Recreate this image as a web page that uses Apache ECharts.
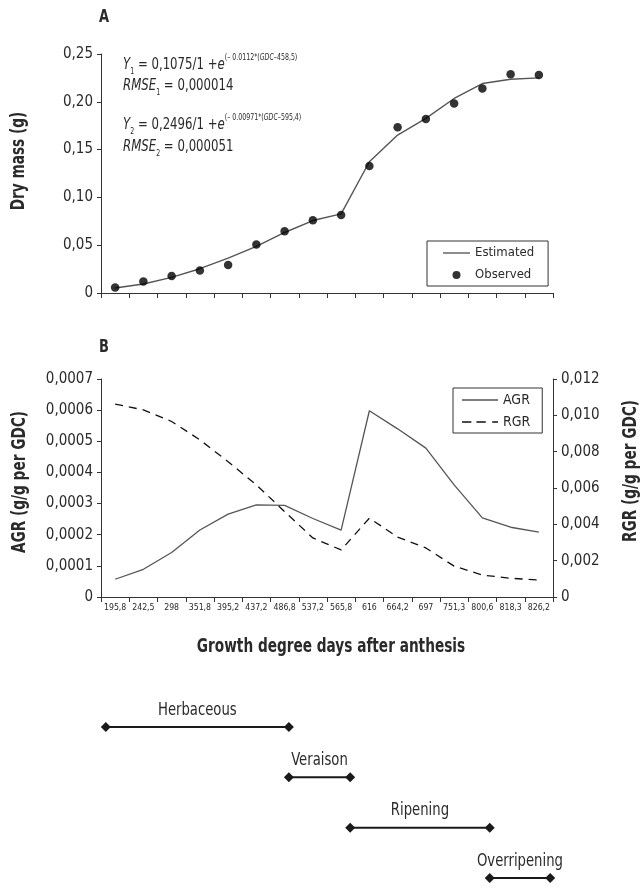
<!DOCTYPE html>
<html>
<head>
<meta charset="utf-8">
<script src="https://cdn.jsdelivr.net/npm/echarts@6/dist/echarts.min.js"></script>
<style>
html,body{margin:0;padding:0;background:#fff;}
#chart{width:643px;height:888px;}
</style>
</head>
<body>
<div id="chart"></div>
<script>
// ---- data ----
var categories = ['195,8','242,5','298','351,8','395,2','437,2','486,8','537,2','565,8','616','664,2','697','751,3','800,6','818,3','826,2'];
var observed  = [0.0058,0.0121,0.0177,0.0236,0.0292,0.0507,0.0647,0.0762,0.0817,0.1328,0.1735,0.1819,0.1983,0.2139,0.2288,0.2281];
var estimated = [0.0052,0.0094,0.0163,0.0254,0.0365,0.0487,0.0633,0.0758,0.0828,0.1373,0.1652,0.1826,0.2035,0.2191,0.2236,0.2250];
var agr = [0.000057,0.000089,0.000143,0.000215,0.000266,0.000296,0.000294,0.000252,0.000215,0.000598,0.000540,0.000478,0.000360,0.000254,0.000224,0.000208];
var rgr = [0.01062,0.0103,0.00966,0.00865,0.00745,0.00617,0.0047,0.00325,0.00259,0.00434,0.0033,0.0027,0.0017,0.00121,0.00103,0.00094];
var leftTicksA = {min:0, max:0.25, interval:0.05};
var leftTicksB = {min:0, max:0.0007, interval:0.0001};
var rightTicksB = {min:0, max:0.012, interval:0.002};
var phaseNames = ['Herbaceous','Veraison','Ripening','Overripening'];
var phaseStart = [0.17, 6.65, 8.82, 13.76];   // in category-slot units
var phaseEnd   = [6.65, 8.82, 13.76, 15.9];

var FONT = '"Liberation Sans Narrow","DejaVu Sans Condensed","Arial Narrow",sans-serif';
var TXT = '#2a2a2a';

function fmt(dec){ return function(v){ return v === 0 ? '0' : v.toFixed(dec).replace('.', ','); }; }

var chart = echarts.init(document.getElementById('chart'), null, {renderer:'canvas'});

var axisLineStyle = {lineStyle:{color:'#333', width:1}};
var tickStyle = {show:true, length:4, lineStyle:{color:'#333', width:1}};
var labelStyle = {color:TXT, fontFamily:FONT, fontSize:15};

var phaseData = phaseNames.map(function(n,i){ return [phaseStart[i], phaseEnd[i], i]; });

var richEq = {
  it:{fontFamily:FONT, fontSize:15, fontStyle:'italic', color:TXT, lineHeight:22},
  n:{fontFamily:FONT, fontSize:15, color:TXT, lineHeight:22},
  sub:{fontFamily:FONT, fontSize:8, color:TXT, lineHeight:9, verticalAlign:'bottom'},
  sup:{fontFamily:FONT, fontSize:8, color:TXT, lineHeight:8, verticalAlign:'top'},
  supi:{fontFamily:FONT, fontSize:8, fontStyle:'italic', color:TXT, lineHeight:8, verticalAlign:'top'}
};
function eqText(x, y, text){
  return {type:'text', x:x, y:y, scaleX:0.87, style:{text:text, rich:richEq, fill:TXT, textVerticalAlign:'middle'}};
}
function titleText(x, y, text, rot){
  return {type:'text', x:x, y:y, rotation:rot, scaleX:0.8, style:{text:text, fontFamily:FONT, fontSize:19, fontWeight:'bold', fill:TXT, textAlign:'center', textVerticalAlign:'middle'}};
}

var option = {
  animation:false,
  backgroundColor:'#fff',
  grid:[
    {left:101, top:54, width:452, height:239},
    {left:101, top:379, width:452, height:218},
    {left:101, top:727, width:452, height:151}
  ],
  xAxis:[
    {type:'category', gridIndex:0, data:categories, boundaryGap:true,
     axisLine:axisLineStyle, axisTick:{show:true, length:5, interval:0, lineStyle:{color:'#333'}}, axisLabel:{show:false}},
    {type:'category', gridIndex:1, data:categories, boundaryGap:true,
     axisLine:axisLineStyle, axisTick:{show:true, length:5, interval:0, lineStyle:{color:'#333'}},
     axisLabel:{interval:0, color:TXT, fontFamily:FONT, fontSize:8.7, margin:6}},
    {type:'value', gridIndex:2, min:0, max:16, show:false}
  ],
  yAxis:[
    {type:'value', gridIndex:0, min:leftTicksA.min, max:leftTicksA.max, interval:leftTicksA.interval,
     axisLine:{show:true, lineStyle:{color:'#333'}}, axisTick:tickStyle, splitLine:{show:false},
     axisLabel:Object.assign({formatter:fmt(2), margin:8}, labelStyle)},
    {type:'value', gridIndex:1, min:leftTicksB.min, max:leftTicksB.max, interval:leftTicksB.interval,
     axisLine:{show:true, lineStyle:{color:'#333'}}, axisTick:tickStyle, splitLine:{show:false},
     axisLabel:Object.assign({formatter:fmt(4), margin:8}, labelStyle)},
    {type:'value', gridIndex:1, position:'right', min:rightTicksB.min, max:rightTicksB.max, interval:rightTicksB.interval,
     axisLine:{show:true, lineStyle:{color:'#333'}}, axisTick:tickStyle, splitLine:{show:false},
     axisLabel:Object.assign({formatter:fmt(3), margin:8}, labelStyle)},
    {type:'category', gridIndex:2, data:phaseNames, inverse:true, boundaryGap:false, show:false}
  ],
  legend:[
    {orient:'vertical', left:427, top:241, padding:[3,14,2,16], itemGap:4, itemWidth:27, itemHeight:8,
     borderColor:'#333', borderWidth:1, borderRadius:0,
     textStyle:{fontFamily:FONT, fontSize:13, color:TXT, lineHeight:18},
     data:[{name:'Estimated', icon:'path://M0,0L100,0L100,5L0,5Z'}, {name:'Observed', icon:'circle'}]},
    {orient:'vertical', left:453, top:388, padding:[3,12,2,9], itemGap:4, itemWidth:36, itemHeight:8,
     borderColor:'#333', borderWidth:1, borderRadius:0,
     textStyle:{fontFamily:FONT, fontSize:14, color:TXT, lineHeight:18},
     data:[{name:'AGR', icon:'path://M0,0L100,0L100,4L0,4Z'},
           {name:'RGR', icon:'path://M0,0L26,0L26,4L0,4Z M40,0L66,0L66,4L40,4Z M84,0L100,0L100,4L84,4Z'}]}
  ],
  series:[
    {name:'Estimated', type:'line', xAxisIndex:0, yAxisIndex:0, data:estimated, symbol:'none',
     lineStyle:{color:'#555', width:1.4}, itemStyle:{color:'#555'}, z:2},
    {name:'Observed', type:'scatter', xAxisIndex:0, yAxisIndex:0, data:observed, symbol:'circle', symbolSize:8.5,
     itemStyle:{color:'#000'}, z:3},
    {name:'AGR', type:'line', xAxisIndex:1, yAxisIndex:1, data:agr, symbol:'none',
     lineStyle:{color:'#555', width:1.3}, itemStyle:{color:'#555'}},
    {name:'RGR', type:'line', xAxisIndex:1, yAxisIndex:2, data:rgr, symbol:'none',
     lineStyle:{color:'#111', width:1.3, type:[8,6]}, itemStyle:{color:'#111'}},
    {name:'phases', type:'custom', xAxisIndex:2, yAxisIndex:3, data:phaseData, silent:true,
     encode:{x:[0,1], y:2},
     renderItem:function(params, api){
       var s = api.coord([api.value(0), api.value(2)]);
       var e = api.coord([api.value(1), api.value(2)]);
       var r = 5;
       function diamond(p){
         return {type:'polygon', shape:{points:[[p[0],p[1]-r],[p[0]+r,p[1]],[p[0],p[1]+r],[p[0]-r,p[1]]]}, style:{fill:'#1a1a1a'}};
       }
       return {type:'group', children:[
         {type:'line', shape:{x1:s[0], y1:s[1], x2:e[0], y2:e[1]}, style:{stroke:'#1a1a1a', lineWidth:2}},
         diamond(s), diamond(e),
         {type:'text', x:(s[0]+e[0])/2, y:s[1]-17, scaleX:0.84, style:{text:phaseNames[params.dataIndex], fontFamily:FONT, fontSize:17.5, fill:TXT, textAlign:'center', textVerticalAlign:'middle'}}
       ]};
     }}
  ],
  graphic:[
    {type:'text', x:104, y:18, scaleX:0.85, style:{text:'A', fontFamily:FONT, fontSize:17, fontWeight:'bold', fill:TXT, textAlign:'center', textVerticalAlign:'middle'}},
    {type:'text', x:104, y:348, scaleX:0.85, style:{text:'B', fontFamily:FONT, fontSize:17, fontWeight:'bold', fill:TXT, textAlign:'center', textVerticalAlign:'middle'}},
    titleText(19, 161, 'Dry mass (g)', Math.PI/2),
    titleText(20, 482, 'AGR (g/g per GDC)', Math.PI/2),
    titleText(631, 471, 'RGR (g/g per GDC)', Math.PI/2),
    titleText(331, 647, 'Growth degree days after anthesis', 0),
    eqText(123, 65, '{it|Y}{sub|1}{n| = 0,1075/1 +}{it|e}{sup|(– 0.0112*(}{supi|GDC}{sup|–458,5)}'),
    eqText(123, 86, '{it|RMSE}{sub|1}{n| = 0,000014}'),
    eqText(123, 125, '{it|Y}{sub|2}{n| = 0,2496/1 +}{it|e}{sup|(– 0.00971*(}{supi|GDC}{sup|–595,4)}'),
    eqText(123, 147, '{it|RMSE}{sub|2}{n| = 0,000051}')
  ]
};
chart.setOption(option);
</script>
</body>
</html>
